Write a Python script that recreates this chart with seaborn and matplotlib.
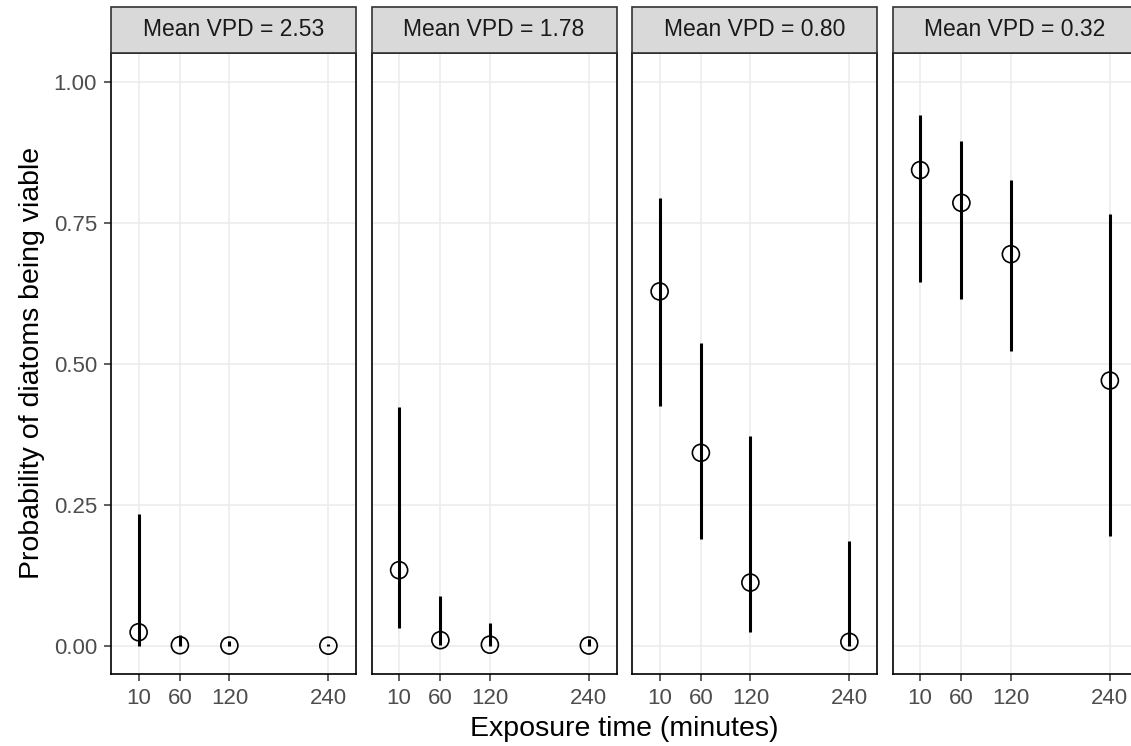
import numpy as np
import pandas as pd
import seaborn as sns
import matplotlib.pyplot as plt
from matplotlib.patches import Rectangle

# exposure times (minutes) and mean VPD per panel
times = [10, 60, 120, 240]
vpd_levels = [2.53, 1.78, 0.80, 0.32]

# estimated probability of viability with lower / upper interval, one list per VPD
prob_253 = [0.024, 0.001, 0.0005, 0.0002]
lo_253 = [0.0, 0.0, 0.0, 0.0]
hi_253 = [0.234, 0.019, 0.008, 0.003]

prob_178 = [0.134, 0.010, 0.002, 0.0005]
lo_178 = [0.032, 0.001, 0.0, 0.0]
hi_178 = [0.423, 0.088, 0.041, 0.012]

prob_080 = [0.628, 0.342, 0.112, 0.007]
lo_080 = [0.425, 0.189, 0.025, 0.0005]
hi_080 = [0.793, 0.536, 0.372, 0.185]

prob_032 = [0.843, 0.785, 0.694, 0.470]
lo_032 = [0.644, 0.615, 0.523, 0.194]
hi_032 = [0.941, 0.894, 0.826, 0.765]

rows = []
for v, p, lo, hi in zip(vpd_levels,
                        [prob_253, prob_178, prob_080, prob_032],
                        [lo_253, lo_178, lo_080, lo_032],
                        [hi_253, hi_178, hi_080, hi_032]):
    for t, pp, l, h in zip(times, p, lo, hi):
        rows.append({"vpd": f"Mean VPD = {v:.2f}", "time": t, "prob": pp, "lo": l, "hi": h})
df = pd.DataFrame(rows)

sns.set_theme(style="white")
plt.rcParams['font.family'] = ['Liberation Sans', 'DejaVu Sans']

W, H = 1131, 746
col_order = [f"Mean VPD = {v:.2f}" for v in vpd_levels]
g = sns.FacetGrid(df, col="vpd", col_order=col_order, sharey=True, sharex=True)
g.figure.set_size_inches(W / 100, H / 100)
g.figure.set_dpi(100)


def draw_ci(data, **kws):
    ax = plt.gca()
    ax.vlines(data["time"], data["lo"], data["hi"], color="black", linewidth=2.2, zorder=3)
    ax.scatter(data["time"], data["prob"], s=150, facecolors="none", edgecolors="black",
               linewidths=1.2, zorder=4)


g.map_dataframe(draw_ci)

left0, width, step = 111 / W, 245 / W, 260.5 / W
bottom, height = 72 / H, 620.7 / H
strip_h = 46.6 / 620.7

for i, ax in enumerate(g.axes.flat):
    ax.set_position([left0 + i * step, bottom, width, height])
    ax.set_xlim(-23.5, 273.5)
    ax.set_ylim(-0.05, 1.05)
    ax.set_xticks(times)
    ax.set_xticklabels([str(t) for t in times])
    ax.set_yticks([0, 0.25, 0.5, 0.75, 1.0])
    ax.set_yticklabels(["0.00", "0.25", "0.50", "0.75", "1.00"])
    ax.grid(True, color="#EBEBEB", linewidth=1.1)
    ax.set_axisbelow(True)
    for s in ax.spines.values():
        s.set_visible(True)
        s.set_color("black")
        s.set_linewidth(1.2)
    ax.tick_params(axis="both", which="major", length=5, width=1.1, color="#333333",
                   labelsize=16, labelcolor="#4D4D4D", pad=5, bottom=True, left=(i == 0))
    if i > 0:
        ax.tick_params(axis="y", labelleft=False, left=False)
    ax.set_title("")
    ax.set_xlabel("")
    ax.set_ylabel("")
    # facet strip
    ax.add_patch(Rectangle((0, 1), 1, strip_h, transform=ax.transAxes, facecolor="#D9D9D9",
                           edgecolor="#333333", linewidth=1.2, clip_on=False, zorder=5))
    ax.text(0.5, 1 + strip_h / 2, col_order[i], transform=ax.transAxes, ha="center",
            va="center", fontsize=16.5, color="#1A1A1A", zorder=6)

g.figure.text(624 / W, 1 - 729 / H, "Exposure time (minutes)", ha="center", va="center",
              fontsize=20.5, color="black")
g.figure.text(32 / W, 1 - 363 / H, "Probability of diatoms being viable", ha="center",
              va="center", rotation=90, fontsize=20.5, color="black")

g.figure.savefig("out.png", dpi=100)
